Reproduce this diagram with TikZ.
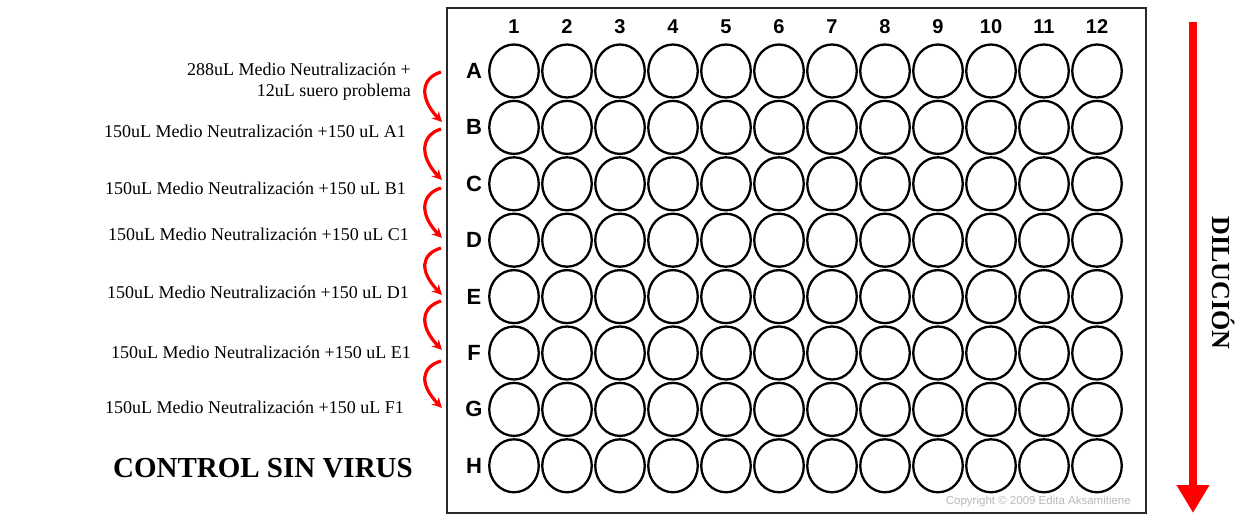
\documentclass[tikz,border=0pt]{standalone}
\usepackage{fontspec}
\setmainfont{Liberation Serif}
\newfontfamily\plainsans{Liberation Sans}
\usetikzlibrary{arrows.meta,shapes.geometric}
\definecolor{framegray}{RGB}{40,40,40}
\definecolor{copygray}{RGB}{185,185,185}
\begin{document}
\begin{tikzpicture}[x=1pt,y=-1pt,
  well/.style={draw=black,line width=2.3pt,ellipse,minimum width=49.5pt,minimum height=53pt,inner sep=0pt},
  plate/.style={draw=framegray,line width=2pt},
  collabel/.style={font=\plainsans\bfseries\fontsize{20}{20}\selectfont,inner sep=0pt},
  rowlabel/.style={font=\plainsans\bfseries\fontsize{22}{22}\selectfont,inner sep=0pt},
  steplabel/.style={font=\fontsize{18}{21}\selectfont,anchor=east,inner sep=0pt,align=right},
  curvearrow/.style={draw=red,line width=3.2pt,-{Stealth[length=10pt,width=10pt]}},
  bigarrow/.style={draw=red,line width=8.5pt,-{Triangle[width=31pt,length=28pt]}}
]
\useasboundingbox (0,0) rectangle (1247,514);
\fill[white] (0,0) rectangle (1247,514);
% plate frame
\draw[plate] (447,8) rectangle (1146,513);
% column labels
\foreach \c in {1,...,12} {
  \node[collabel] (col\c) at ({514+53*(\c-1)},27) {\c};
}
% row labels and wells
\foreach \r/\L [count=\i from 0] in {A/A,B/B,C/C,D/D,E/E,F/F,G/G,H/H} {
  \node[rowlabel] (row\r) at (474,{71+56.4*\i}) {\L};
  \foreach \c in {1,...,12} {
    \node[well] (w\r\c) at ({514+53*(\c-1)},{71+56.4*\i}) {};
  }
}
% copyright
\node[font=\plainsans\fontsize{11.5}{11.5}\selectfont,text=copygray,anchor=east,inner sep=0pt] (copy) at (1131,502) {Copyright \textcopyright{} 2009 Edita Aksamitiene};
% step labels
\node[steplabel] (t0) at (411,82) {288uL Medio Neutralización +\\12uL suero problema};
\node[steplabel] (t1) at (406,131) {150uL Medio Neutralización +150 uL A1};
\node[steplabel] (t2) at (406,188) {150uL Medio Neutralización +150 uL B1};
\node[steplabel] (t3) at (409,234) {150uL Medio Neutralización +150 uL C1};
\node[steplabel] (t4) at (409,292) {150uL Medio Neutralización +150 uL D1};
\node[steplabel] (t5) at (411,352) {150uL Medio Neutralización +150 uL E1};
\node[steplabel] (t6) at (404,407) {150uL Medio Neutralización +150 uL F1};
\node[font=\bfseries\fontsize{29}{29}\selectfont,anchor=east,inner sep=0pt] (ctrl) at (413,468) {CONTROL SIN VIRUS};
% curved dilution arrows
\foreach \k/\ya/\yb in {1/72/122,2/129/180,3/188/238,4/248/295,5/301/350,6/361/408} {
  \coordinate (s\k) at (441,\ya);
  \coordinate (e\k) at (442,\yb);
  \draw[curvearrow] (s\k) .. controls (421,{\ya+6}) and (419,{\yb-24}) .. (e\k);
}
% big dilution arrow
\coordinate (btop) at (1193,22);
\coordinate (bbot) at (1193,513);
\draw[bigarrow] (btop) -- (bbot);
\node[font=\bfseries\fontsize{26}{26}\selectfont,rotate=-90,inner sep=0pt] (dil) at (1224,283) {DILUCIÓN};
\end{tikzpicture}
\end{document}
